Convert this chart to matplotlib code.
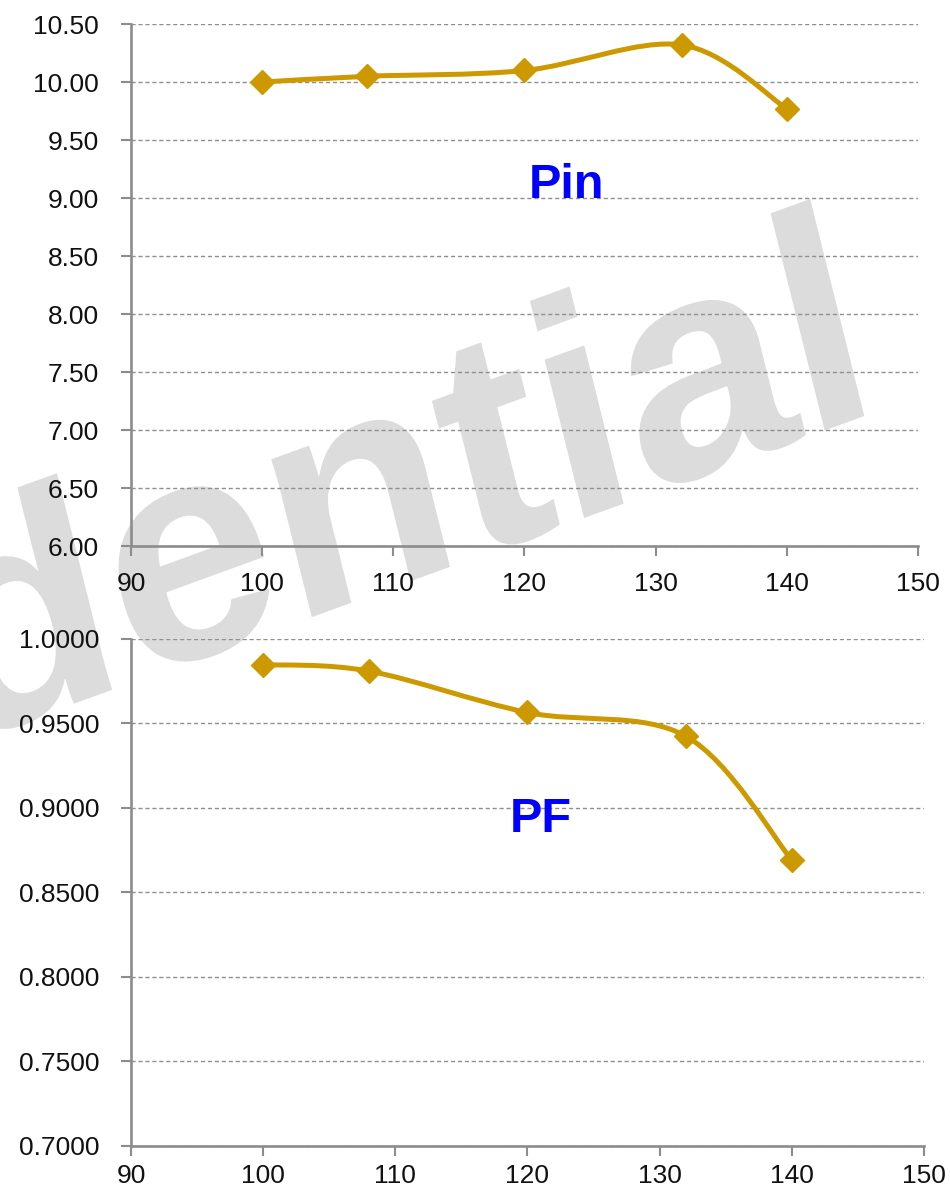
import matplotlib
matplotlib.use("Agg")
import matplotlib.pyplot as plt
from matplotlib.path import Path
from matplotlib.patches import PathPatch
from matplotlib.textpath import TextPath
from matplotlib.font_manager import FontProperties
from matplotlib.transforms import Affine2D
from matplotlib.ticker import FormatStrFormatter

# data
speed = [100, 108, 120, 132, 140]
pin = [10.00, 10.05, 10.10, 10.32, 9.77]
pf = [0.9848, 0.9810, 0.9565, 0.9424, 0.8692]

x_ticks = [90, 100, 110, 120, 130, 140, 150]
pin_ticks = [6.00, 6.50, 7.00, 7.50, 8.00, 8.50, 9.00, 9.50, 10.00, 10.50]
pf_ticks = [0.70, 0.75, 0.80, 0.85, 0.90, 0.95, 1.00]

GOLD = "#CC9900"
AXIS_GREY = "#8c8c8c"
plt.rcParams["font.family"] = ["Liberation Sans", "DejaVu Sans"]


def smooth_path(xs, ys):
    # excel-style smoothed line: cubic bezier, control points from neighbours (1/6 rule)
    pts = list(zip(xs, ys))
    n = len(pts)
    verts = [pts[0]]
    codes = [Path.MOVETO]
    for i in range(n - 1):
        p0 = pts[max(i - 1, 0)]
        p1 = pts[i]
        p2 = pts[i + 1]
        p3 = pts[min(i + 2, n - 1)]
        c1 = (p1[0] + (p2[0] - p0[0]) / 6, p1[1] + (p2[1] - p0[1]) / 6)
        c2 = (p2[0] - (p3[0] - p1[0]) / 6, p2[1] - (p3[1] - p1[1]) / 6)
        verts += [c1, c2, p2]
        codes += [Path.CURVE4] * 3
    return Path(verts, codes)


def style_axes(ax, yticks, ylim, fmt, xpad):
    ax.patch.set_visible(False)
    ax.set_xlim(90, 150)
    ax.set_ylim(*ylim)
    ax.set_xticks(x_ticks)
    ax.set_yticks(yticks)
    ax.yaxis.set_major_formatter(FormatStrFormatter(fmt))
    for side in ["top", "right"]:
        ax.spines[side].set_visible(False)
    for side in ["left", "bottom"]:
        ax.spines[side].set_color(AXIS_GREY)
        ax.spines[side].set_linewidth(1.9)
    ax.tick_params(axis="both", colors=AXIS_GREY, width=1.5, length=7,
                   labelsize=19, labelcolor="#111111")
    ax.tick_params(axis="y", pad=16)
    ax.tick_params(axis="x", pad=xpad)
    ax.grid(axis="y", color="#8f8f8f", linestyle=(0, (3, 2)), linewidth=1.0)
    ax.set_axisbelow(True)


def draw_series(ax, ys):
    ax.add_patch(PathPatch(smooth_path(speed, ys), facecolor="none",
                           edgecolor=GOLD, linewidth=3.6, zorder=3,
                           capstyle="round", joinstyle="round"))
    ax.plot(speed, ys, linestyle="none", marker="D", markersize=12.5,
            color=GOLD, zorder=4)


fig = plt.figure(figsize=(9.5, 11.93), dpi=100)

# light grey watermark behind both charts
wm_font = FontProperties(family="Liberation Sans", weight="bold")
wm_path = TextPath((0, 0), "dential", size=307, prop=wm_font)
wm_trans = (Affine2D().skew_deg(6, 0).rotate_deg(20).translate(-45, 446).scale(1 / 100)
            + fig.dpi_scale_trans)
fig.add_artist(PathPatch(wm_path, transform=wm_trans, facecolor="#dcdcdc",
                         edgecolor="none", zorder=-1))

ax1 = fig.add_axes([0.1379, 0.5423, 0.8284, 0.4375])
style_axes(ax1, pin_ticks, (6.0, 10.5), "%.2f", 12)
draw_series(ax1, pin)
ax1.text(123.2, 9.0, "Pin", color="#0000FF", fontsize=35, fontweight="bold",
         ha="center", va="baseline", zorder=5)

ax2 = fig.add_axes([0.1379, 0.0394, 0.8347, 0.4250])
style_axes(ax2, pf_ticks, (0.70, 1.00), "%.4f", 6)
draw_series(ax2, pf)
ax2.text(121.0, 0.8857, "PF", color="#0000FF", fontsize=35, fontweight="bold",
         ha="center", va="baseline", zorder=5)

fig.savefig("out.png", dpi=100)
